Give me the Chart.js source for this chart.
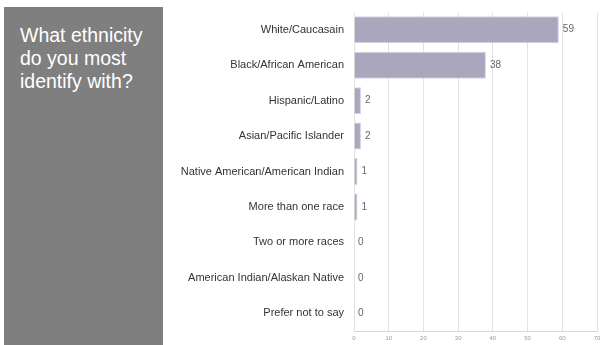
<!DOCTYPE html>
<html><head><meta charset="utf-8">
<script src="https://cdn.jsdelivr.net/npm/chart.js@4/dist/chart.umd.min.js"></script>
<style>
html,body{margin:0;padding:0;background:#fff;width:600px;height:345px;overflow:hidden;}
#panel{position:absolute;left:4px;top:7px;width:159px;height:338px;background:#7f7f7f;}
#title{position:absolute;left:20px;top:24px;color:#fff;font-family:"Liberation Sans",Arial,sans-serif;font-size:19.5px;line-height:23px;}
#c{position:absolute;left:0;top:0;}
</style></head><body>
<div id="panel"></div>
<div id="title">What ethnicity<br>do you most<br>identify with?</div>
<canvas id="c" width="600" height="345"></canvas>
<script>
const categories = ["White/Caucasain","Black/African American","Hispanic/Latino","Asian/Pacific Islander","Native American/American Indian","More than one race","Two or more races","American Indian/Alaskan Native","Prefer not to say"];
const values = [59,38,2,2,1,1,0,0,0];
const xTicks = [0,10,20,30,40,50,60,70];

const labelPlugin = {
  id:'valLabels',
  afterDatasetsDraw(chart){
    const ctx = chart.ctx;
    const meta = chart.getDatasetMeta(0);
    ctx.save();
    ctx.font = '10px "Liberation Sans", Arial, sans-serif';
    ctx.fillStyle = '#666';
    ctx.textAlign = 'left';
    ctx.textBaseline = 'middle';
    meta.data.forEach((bar,i)=>{
      ctx.fillText(String(values[i]), bar.x + 4, bar.y);
    });
    ctx.restore();
  }
};

new Chart(document.getElementById('c'), {
  type:'bar',
  data:{labels:categories,datasets:[{data:values,backgroundColor:'#aaa6bd',borderColor:'#d4d1e2',borderWidth:1,barPercentage:0.76,categoryPercentage:1}]},
  options:{
    indexAxis:'y',
    responsive:false,
    maintainAspectRatio:false,
    animation:false,
    devicePixelRatio:1,
    layout:{padding:{top:12,right:3,left:0,bottom:0}},
    plugins:{legend:{display:false},tooltip:{enabled:false}},
    scales:{
      x:{
        min:0,max:70,
        afterBuildTicks(s){ s.ticks = xTicks.map(v=>({value:v})); },
        afterFit(s){ s.height = 14; s.paddingLeft = 0; s.paddingRight = 0; },
        grid:{color:'#e2e2e2',drawTicks:false,lineWidth:1},
        border:{display:true,color:'#d8d8d8'},
        ticks:{font:{size:6,family:'"Liberation Sans", Arial, sans-serif'},color:'#999',padding:4,maxRotation:0}
      },
      y:{
        afterFit(s){ s.width = 354; s.paddingTop = 0; s.paddingBottom = 0; },
        grid:{display:false,drawTicks:false},
        border:{display:false},
        ticks:{font:{size:11,family:'"Liberation Sans", Arial, sans-serif'},color:'#333',padding:10}
      }
    }
  },
  plugins:[labelPlugin]
});
</script>
</body></html>
